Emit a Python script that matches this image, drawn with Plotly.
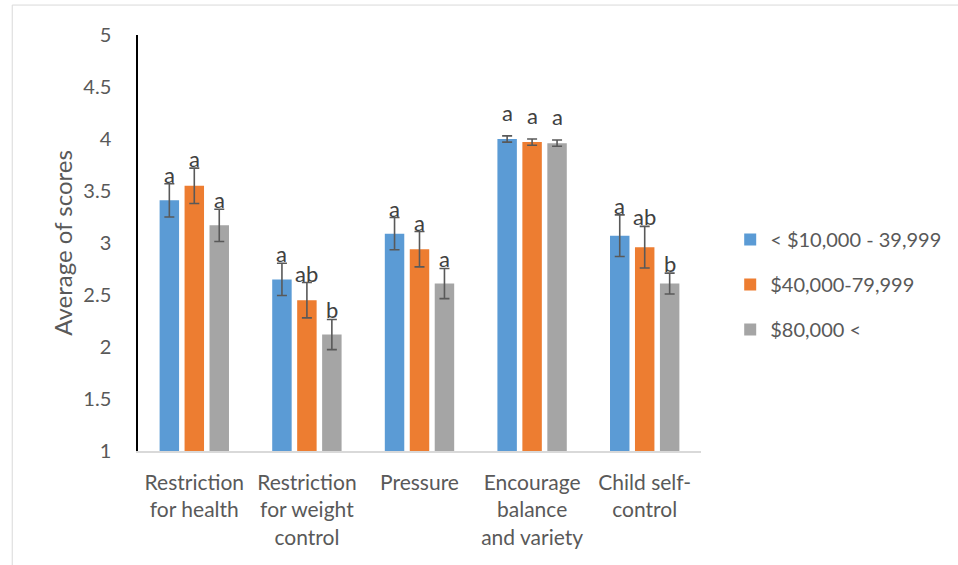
import plotly.graph_objects as go

# Feeding practice subscales by household income group
categories = [
    "Restriction<br>for health",
    "Restriction<br>for weight<br>control",
    "Pressure",
    "Encourage<br>balance<br>and variety",
    "Child self-<br>control",
]
series_names = ["< $10,000 - 39,999", "$40,000-79,999", "$80,000 <"]
colors = ["#5B9BD5", "#ED7D31", "#A5A5A5"]

low_income = [3.41, 2.65, 3.09, 4.00, 3.07]
mid_income = [3.55, 2.45, 2.94, 3.97, 2.96]
high_income = [3.17, 2.12, 2.61, 3.96, 2.61]

low_err = [0.16, 0.155, 0.155, 0.03, 0.20]
mid_err = [0.17, 0.17, 0.17, 0.03, 0.20]
high_err = [0.155, 0.145, 0.145, 0.03, 0.10]

low_letters = ["a", "a", "a", "a", "a"]
mid_letters = ["a", "ab", "a", "a", "ab"]
high_letters = ["a", "b", "a", "a", "b"]

values = [low_income, mid_income, high_income]
errors = [low_err, mid_err, high_err]
letters = [low_letters, mid_letters, high_letters]

FONT = "Lato, 'Open Sans', sans-serif"
TEXT_COLOR = "#595959"

fig = go.Figure()
for k, (name, vals, errs, col) in enumerate(zip(series_names, values, errors, colors)):
    fig.add_trace(go.Bar(
        x=categories, y=vals, name=name, legendgroup=f"g{k}",
        marker=dict(color=col, line=dict(width=0)),
        error_y=dict(type="data", array=errs, visible=True,
                     color="#595959", thickness=1.6, width=5),
    ))

# significance letters sit on top of each error bar cap
slot_px = 25
label_lift = {3: 14}
for s, (vals, errs, labs) in enumerate(zip(values, errors, letters)):
    for i, cat in enumerate(categories):
        fig.add_annotation(
            x=cat, y=vals[i] + errs[i], xref="x", yref="y",
            text=labs[i], showarrow=False, yanchor="bottom",
            xshift=(s - 1) * slot_px, yshift=-6 + label_lift.get(i, 0),
            font=dict(family=FONT, size=22, color="#404040"),
        )

# light outer frame of the chart area
fig.add_shape(type="rect", xref="paper", yref="paper",
              x0=-0.2234, y0=-1, x1=2, y1=1.072,
              line=dict(color="#D9D9D9", width=1), fillcolor="rgba(0,0,0,0)")

fig.update_layout(
    width=958, height=565,
    margin=dict(l=138, r=256, t=35, b=114),
    paper_bgcolor="white", plot_bgcolor="white",
    barmode="group", bargap=0.335, bargroupgap=0.22,
    font=dict(family=FONT, color=TEXT_COLOR),
    legend=dict(x=1.05, y=0.40, xanchor="left", yanchor="middle",
                font=dict(size=20, color=TEXT_COLOR),
                itemsizing="constant", tracegroupgap=16,
                bgcolor="rgba(0,0,0,0)"),
    showlegend=True,
)
fig.update_xaxes(
    showline=True, linecolor="#D9D9D9", linewidth=1.5,
    ticks="", tickfont=dict(size=21, color=TEXT_COLOR),
    ticklabelstandoff=12,
)
fig.update_yaxes(
    range=[1, 5], dtick=0.5, showgrid=False, zeroline=False,
    showline=True, linecolor="#000000", linewidth=1.5,
    ticks="", tickfont=dict(size=20, color=TEXT_COLOR),
    ticklabelstandoff=21,
    title=dict(text="Average of scores", font=dict(size=24, color=TEXT_COLOR),
               standoff=4),
)

fig.write_html("out.html")
